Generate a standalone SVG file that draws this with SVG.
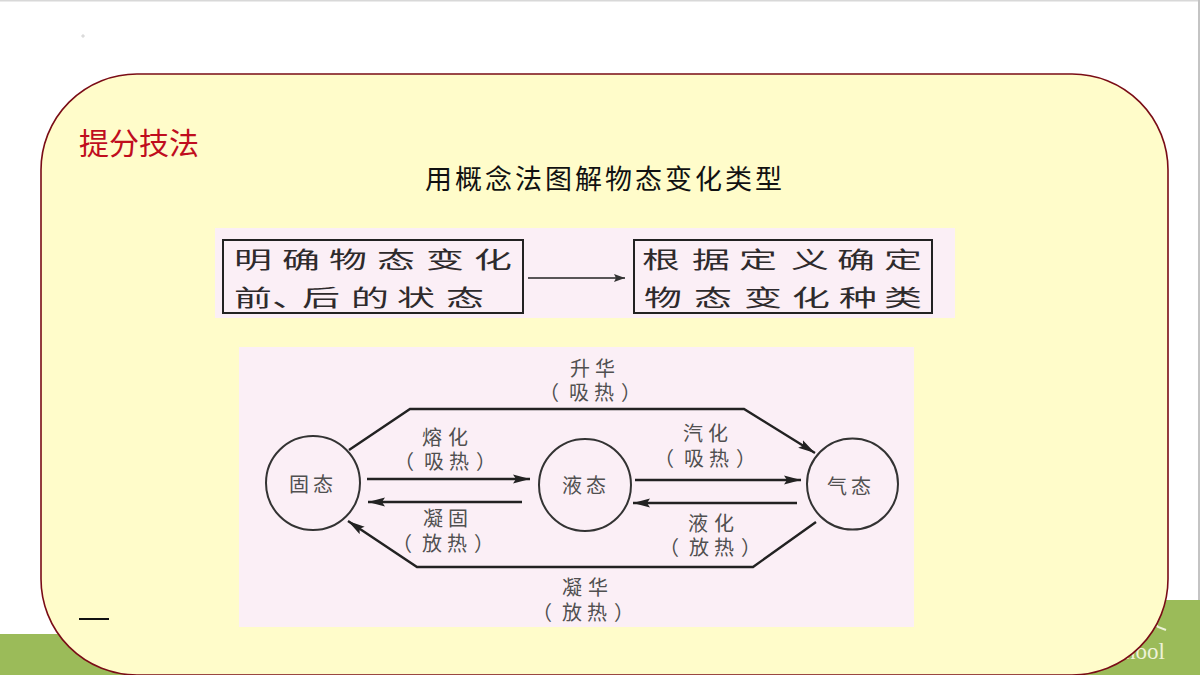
<svg xmlns="http://www.w3.org/2000/svg" width="1200" height="675" viewBox="0 0 1200 675">
<style>
text{font-family:"Noto Sans CJK SC","Noto Sans CJK TC",sans-serif}
.lb{font-size:20px;fill:#505050}
.bx{font-size:23px;fill:#2e2a2c}
.box{fill:none;stroke:#222;stroke-width:2}
.st{fill:none;stroke:#333;stroke-width:2}
.cn{fill:none;stroke:#222;stroke-width:2.4}
.thin{fill:none;stroke:#222;stroke-width:1.6}
</style>
<defs>
<marker id="ah" markerUnits="userSpaceOnUse" markerWidth="18" markerHeight="10" refX="17" refY="5" orient="auto"><path d="M0 .5L17 5L0 9.500L3 5Z" fill="#222"/></marker>
<marker id="ahs" markerUnits="userSpaceOnUse" markerWidth="12" markerHeight="8" refX="11" refY="4" orient="auto"><path d="M0 0L11 4L0 8L2 4Z" fill="#333"/></marker>
</defs>
<rect width="1200" height="675" fill="#fff"/>
<rect width="1200" height="1.500" fill="#d8d8d8"/>
<rect x="1198" y="0" width="2" height="600" fill="#c4c4c4"/>
<path d="M81 36h4M83 34v4" stroke="#bbb" stroke-width=".6"/>
<rect x="0" y="634" width="600" height="41" fill="#9bbb59"/>
<rect x="600" y="600" width="600" height="75" fill="#9bbb59"/>
<text x="1165" y="659" text-anchor="end" style="font-family:'Liberation Serif',serif;font-size:23px;fill:#eef2d8">School</text>
<path d="M1152 620l6 7 8 3" fill="none" stroke="#eef2d8" stroke-width="2"/>
<rect x="41" y="74" width="1127" height="601" rx="96" ry="96" fill="#fffcca" stroke="#7a0c16" stroke-width="1.600"/>
<text x="79" y="154" style="font-size:30px;fill:#c00d1e">提分技法</text>
<text x="425" y="189" style="font-size:27px;letter-spacing:3px;fill:#111">用概念法图解物态变化类型</text>
<rect x="79" y="618" width="30" height="2" fill="#111"/>

<rect x="215" y="228" width="740" height="90" fill="#fbeff6"/>
<rect x="239" y="347" width="675" height="280" fill="#fbeff6"/>

<g id="step1"><rect class="box" x="223" y="240" width="300" height="73"/>
<text class="bx" transform="translate(0 268) scale(1.65 1)" x="141.800 170.900 199.400 228.500 258.200 287.300">明确物态变化</text>
<text class="bx" transform="translate(0 306) scale(1.65 1)" x="141.800 164.800 183 212.700 240.600 270.300">前、后的状态</text></g>
<g id="step2"><rect class="box" x="634" y="240" width="298" height="73"/>
<text class="bx" transform="translate(0 268) scale(1.65 1)" x="389.100 419.400 447.900 479.400 507.300 535.800">根据定义确定</text>
<text class="bx" transform="translate(0 306) scale(1.65 1)" x="390.300 420.600 450.900 480 508.500 535.800">物态变化种类</text></g>

<g id="solid"><circle class="st" cx="313" cy="483" r="47"/><text class="lb" y="492" x="289 313">固态</text></g>
<g id="liquid"><circle class="st" cx="585" cy="485" r="46"/><text class="lb" y="493" x="562 586">液态</text></g>
<g id="gas"><circle class="st" cx="852.500" cy="484" r="45.500"/><text class="lb" y="494" x="827 851">气态</text></g>

<g id="connectors">
<path class="thin" d="M528 278H625" marker-end="url(#ahs)"/>
<path class="cn" d="M349 450L410 409H744L815 453" marker-end="url(#ah)"/>
<path class="cn" d="M816 522L753 567H417L348 521" marker-end="url(#ah)"/>
<path class="cn" d="M367 479H530" marker-end="url(#ah)"/>
<path class="cn" d="M522 502H368" marker-end="url(#ah)"/>
<path class="cn" d="M635 480H801" marker-end="url(#ah)"/>
<path class="cn" d="M797 503H633" marker-end="url(#ah)"/>
</g>

<g id="labels">
<text class="lb" y="376" x="570 595">升华</text>
<text class="lb" y="400" x="539 569 594 621">（吸热）</text>
<text class="lb" y="445" x="422 448">熔化</text>
<text class="lb" y="469" x="394 424 449 476">（吸热）</text>
<text class="lb" y="526" x="423 448">凝固</text>
<text class="lb" y="551" x="392 422 447 474">（放热）</text>
<text class="lb" y="441" x="683 708">汽化</text>
<text class="lb" y="466" x="654 684 709 736">（吸热）</text>
<text class="lb" y="531" x="688 714">液化</text>
<text class="lb" y="555" x="659 689 714 741">（放热）</text>
<text class="lb" y="595" x="562 588">凝华</text>
<text class="lb" y="620" x="532 562 587 614">（放热）</text>
</g>
</svg>
